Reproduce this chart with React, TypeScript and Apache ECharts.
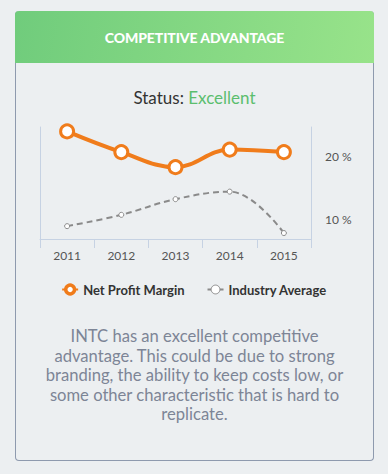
import React, { useEffect, useRef } from "react";
import * as echarts from "echarts";

const categories = ["2011", "2012", "2013", "2014", "2015"];
const netProfitMargin = [24.0, 20.7, 18.3, 21.1, 20.7];
const industryAverage = [8.9, 10.7, 13.2, 14.4, 7.8];
const yTicks = [10, 20];

const FONT = "Lato, 'Open Sans', sans-serif";

export default function App() {
  const ref = useRef<HTMLDivElement>(null);

  useEffect(() => {
    document.body.style.margin = "0";
    const chart = echarts.init(ref.current!, undefined, { renderer: "svg" });
    chart.setOption({
      animation: false,
      textStyle: { fontFamily: FONT },
      grid: { left: 40, right: 77, top: 17, bottom: 71 },
      legend: {
        top: 168,
        left: "center",
        itemGap: 22,
        itemWidth: 16,
        itemHeight: 11,
        textStyle: { fontFamily: FONT, fontSize: 13, fontWeight: "bold", color: "#333" },
        data: [
          { name: "Net Profit Margin", itemStyle: { borderWidth: 3.5 } },
          { name: "Industry Average", itemStyle: { borderWidth: 1 } },
        ],
      },
      xAxis: {
        type: "category",
        data: categories,
        boundaryGap: true,
        axisLine: { lineStyle: { color: "#C6D2E3", width: 1 } },
        axisTick: { show: true, length: 9, lineStyle: { color: "#C6D2E3" } },
        axisLabel: { color: "#555", fontSize: 12, margin: 10, fontFamily: FONT },
      },
      yAxis: [
        {
          type: "value",
          position: "right",
          min: 6.85,
          max: 24.7,
          splitLine: { show: false },
          axisLine: { show: true, lineStyle: { color: "#C6D2E3" } },
          axisTick: { show: false },
          axisLabel: {
            customValues: yTicks,
            formatter: (v: number) => `${v} %`,
            color: "#555",
            fontSize: 12,
            margin: 14,
            fontFamily: FONT,
          },
        },
        {
          type: "value",
          position: "left",
          min: 6.85,
          max: 24.7,
          splitLine: { show: false },
          axisLine: { show: true, lineStyle: { color: "#C6D2E3" } },
          axisTick: { show: false },
          axisLabel: { show: false },
        },
      ],
      series: [
        {
          name: "Net Profit Margin",
          type: "line",
          data: netProfitMargin,
          smooth: 0.4,
          symbol: "circle",
          symbolSize: 13,
          lineStyle: { color: "#F07C1B", width: 4 },
          itemStyle: { color: "#fff", borderColor: "#F07C1B", borderWidth: 3 },
          z: 3,
        },
        {
          name: "Industry Average",
          type: "line",
          data: industryAverage,
          smooth: 0.4,
          symbol: "circle",
          symbolSize: 5,
          lineStyle: { color: "#8A8A8A", width: 2, type: [6, 4] },
          itemStyle: { color: "#fff", borderColor: "#8A8A8A", borderWidth: 1 },
          z: 2,
        },
      ],
    });
    return () => chart.dispose();
  }, []);

  return (
    <div
      style={{
        position: "absolute",
        left: 0,
        top: 0,
        width: 388,
        height: 474,
        background: "#ECEFF1",
        fontFamily: FONT,
        overflow: "hidden",
      }}
    >
      <div
        style={{
          position: "absolute",
          left: 15,
          top: 11,
          width: 357,
          height: 449,
          border: "1px solid #8E9AAE",
          borderTop: "none",
          borderRadius: 4,
          background: "#ECEFF1",
        }}
      />
      <div
        style={{
          position: "absolute",
          left: 15,
          top: 11,
          width: 359,
          height: 52,
          borderRadius: "4px 4px 0 0",
          background: "linear-gradient(100deg, #70CC7C 0%, #98E38A 100%)",
          color: "#fff",
          fontWeight: 900,
          fontSize: 14,
          lineHeight: "54px",
          textAlign: "center",
          letterSpacing: -0.1,
        }}
      >
        COMPETITIVE ADVANTAGE
      </div>
      <div
        style={{
          position: "absolute",
          left: 15,
          width: 359,
          top: 86,
          lineHeight: "24px",
          fontSize: 17,
          textAlign: "center",
          color: "#333",
        }}
      >
        Status: <span style={{ color: "#5BBE6E" }}>Excellent</span>
      </div>
      <div ref={ref} style={{ position: "absolute", left: 0, top: 110, width: 388, height: 200 }} />
      <div
        style={{
          position: "absolute",
          left: 34,
          width: 321,
          top: 327,
          lineHeight: "19.5px",
          fontSize: 16.6,
          textAlign: "center",
          color: "#7D8596",
        }}
      >
        INTC has an excellent competitive advantage. This could be due to strong branding, the
        ability to keep costs low, or some other characteristic that is hard to replicate.
      </div>
    </div>
  );
}
